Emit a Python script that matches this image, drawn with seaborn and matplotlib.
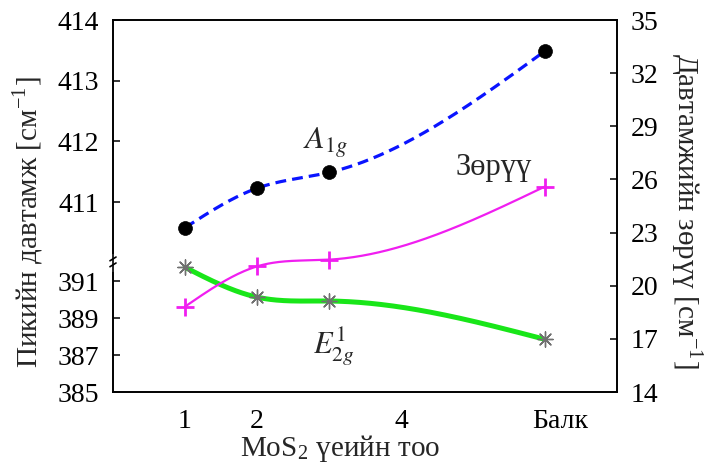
import numpy as np
import pandas as pd
import matplotlib
matplotlib.use("Agg")
import matplotlib.pyplot as plt
import matplotlib.transforms as mtransforms
import seaborn as sns

# ---------------- data ----------------
layers = [1, 2, 3, 6]
xtick_pos = [1, 2, 3, 4, 5, 6]
xtick_labels = ["1", "2", "", "4", "", "Балк"]
a1g = [410.58, 411.23, 411.49, 413.49]
e2g = [391.77, 390.15, 389.94, 387.86]
diff = [18.82, 21.09, 21.47, 25.60]
left_ticks = [385, 387, 389, 391, 411, 412, 413, 414]
right_ticks = [14, 17, 20, 23, 26, 29, 32, 35]

# ---------------- style ----------------
sns.set_theme(style="white")
plt.rcParams["font.family"] = ["Liberation Serif", "DejaVu Serif"]
plt.rcParams["mathtext.fontset"] = "stix"
plt.rcParams["axes.edgecolor"] = "black"
plt.rcParams["axes.linewidth"] = 1.2


def natural_spline(x, y, xs):
    x = np.asarray(x, float)
    y = np.asarray(y, float)
    n = len(x)
    h = np.diff(x)
    A = np.zeros((n, n))
    r = np.zeros(n)
    A[0, 0] = 1
    A[-1, -1] = 1
    for i in range(1, n - 1):
        A[i, i - 1] = h[i - 1]
        A[i, i] = 2 * (h[i - 1] + h[i])
        A[i, i + 1] = h[i]
        r[i] = 3 * ((y[i + 1] - y[i]) / h[i] - (y[i] - y[i - 1]) / h[i - 1])
    c = np.linalg.solve(A, r)
    b = (y[1:] - y[:-1]) / h - h * (2 * c[:-1] + c[1:]) / 3
    d = (c[1:] - c[:-1]) / (3 * h)
    idx = np.clip(np.searchsorted(x, xs) - 1, 0, n - 2)
    dx = xs - x[idx]
    return y[idx] + b[idx] * dx + c[idx] * dx ** 2 + d[idx] * dx ** 3


# broken left axis: [385,392] -> lower part, [410,414] -> upper part
BP = np.array([385.0, 392.0, 410.0, 414.0])
UP = np.array([0.0, 0.3466, 0.3470, 1.0])


def fwd(v):
    v = np.asarray(v, float)
    out = np.interp(v, BP, UP)
    s0 = (UP[1] - UP[0]) / (BP[1] - BP[0])
    s1 = (UP[3] - UP[2]) / (BP[3] - BP[2])
    out = np.where(v < BP[0], UP[0] + (v - BP[0]) * s0, out)
    out = np.where(v > BP[3], UP[3] + (v - BP[3]) * s1, out)
    return out


def inv(u):
    u = np.asarray(u, float)
    out = np.interp(u, UP, BP)
    s0 = (BP[1] - BP[0]) / (UP[1] - UP[0])
    s1 = (BP[3] - BP[2]) / (UP[3] - UP[2])
    out = np.where(u < UP[0], BP[0] + (u - UP[0]) * s0, out)
    out = np.where(u > UP[3], BP[3] + (u - UP[3]) * s1, out)
    return out


W, H = 705, 468
fig = plt.figure(figsize=(W / 100, H / 100), dpi=100)
ax = fig.add_axes([113 / W, (H - 392) / H, 504 / W, 372 / H])
ax.set_yscale("function", functions=(fwd, inv))
ax2 = ax.twinx()

xs = np.linspace(layers[0], layers[-1], 300)
df_curves = pd.DataFrame({
    "x": xs,
    "a1g": natural_spline(layers, a1g, xs),
    "e2g": natural_spline(layers, e2g, xs),
    "diff": natural_spline(layers, diff, xs),
})
df_pts = pd.DataFrame({"x": layers, "a1g": a1g, "e2g": e2g, "diff": diff})

# A1g
sns.lineplot(data=df_curves, x="x", y="a1g", ax=ax, color="#0a14ff",
             linewidth=2.3, sort=False, estimator=None)
ax.lines[-1].set_dashes((3.4, 1.9))
sns.scatterplot(data=df_pts, x="x", y="a1g", ax=ax, color="black",
                s=100, edgecolor="black", linewidth=0.5, zorder=5)

# E2g
sns.lineplot(data=df_curves, x="x", y="e2g", ax=ax, color="#19e619",
             linewidth=3.6, sort=False, estimator=None)
sns.scatterplot(data=df_pts, x="x", y="e2g", ax=ax, color="#707070",
                marker=(8, 2, 0), s=120, linewidth=1.0, zorder=5)

# difference
sns.lineplot(data=df_curves, x="x", y="diff", ax=ax2, color="#f01ef0",
             linewidth=1.6, sort=False, estimator=None)
sns.scatterplot(data=df_pts, x="x", y="diff", ax=ax2, color="#f01ef0",
                marker="+", s=150, linewidth=2.0, zorder=5)

# axes ranges / ticks
ax.set_xlim(0, 7)
ax.set_ylim(385, 414)
ax2.set_ylim(14, 35)
ax.set_xticks(xtick_pos)
ax.set_xticklabels(xtick_labels)
ax.set_yticks(left_ticks)
ax.set_yticklabels([str(t) for t in left_ticks])
ax.yaxis.set_minor_locator(matplotlib.ticker.NullLocator())
ax2.set_yticks(right_ticks)
ax2.set_yticklabels([str(t) for t in right_ticks])
ax.set_xlabel("")
ax.set_ylabel("")
ax2.set_ylabel("")

for a in (ax, ax2):
    for sp in a.spines.values():
        sp.set_color("black")
        sp.set_linewidth(1.2)
ax.tick_params(axis="both", direction="in", length=5, width=1.1,
               colors="black", pad=9)
ax.tick_params(axis="y", labelsize=20, pad=10)
ax.tick_params(axis="x", labelsize=20, pad=12)
ax2.tick_params(axis="y", direction="in", length=5, width=1.1,
                colors="black", labelsize=20, pad=10)
# shift "Балк" slightly right as in the reference
lbl = ax.get_xticklabels()[-1]
lbl.set_transform(lbl.get_transform() +
                  mtransforms.ScaledTranslation(15 / 100, 0, fig.dpi_scale_trans))

# axis titles placed at the reference positions (figure fraction)
fig.text(340 / W, 1 - 449 / H, "MoS$_\\mathregular{2}$ үеийн тоо",
         fontsize=21, ha="center", va="center")
fig.text(29 / W, 1 - 222 / H, "Пикийн давтамж [см$^\\mathregular{-1}$]",
         fontsize=21, ha="center", va="center", rotation=90)
fig.text(686 / W, 1 - 211 / H, "Давтамжийн зөрүү [см$^\\mathregular{-1}$]",
         fontsize=21, ha="center", va="center", rotation=270)

# annotations
ax.text(2.95, 411.97, "$A_{1g}$", fontsize=23, ha="center", va="center")
ax2.text(5.29, 26.7, "Зөрүү", fontsize=22, ha="center", va="center")
ax.text(3.07, 387.43, "$E^{1}_{2g}$", fontsize=22, ha="center", va="center")

# axis break marks on the left spine
yb = 0.3468
ax.plot([0, 0], [yb - 0.018, yb + 0.018], transform=ax.transAxes,
        color="white", lw=3, clip_on=False, zorder=10)
for dy in (-0.010, 0.006):
    ax.plot([-0.006, 0.006], [yb + dy, yb + dy + 0.010],
            transform=ax.transAxes, color="black", lw=1.2,
            clip_on=False, zorder=11)

for a in (ax, ax2):
    if a.get_legend() is not None:
        a.get_legend().remove()

fig.savefig("out.png", dpi=100)
